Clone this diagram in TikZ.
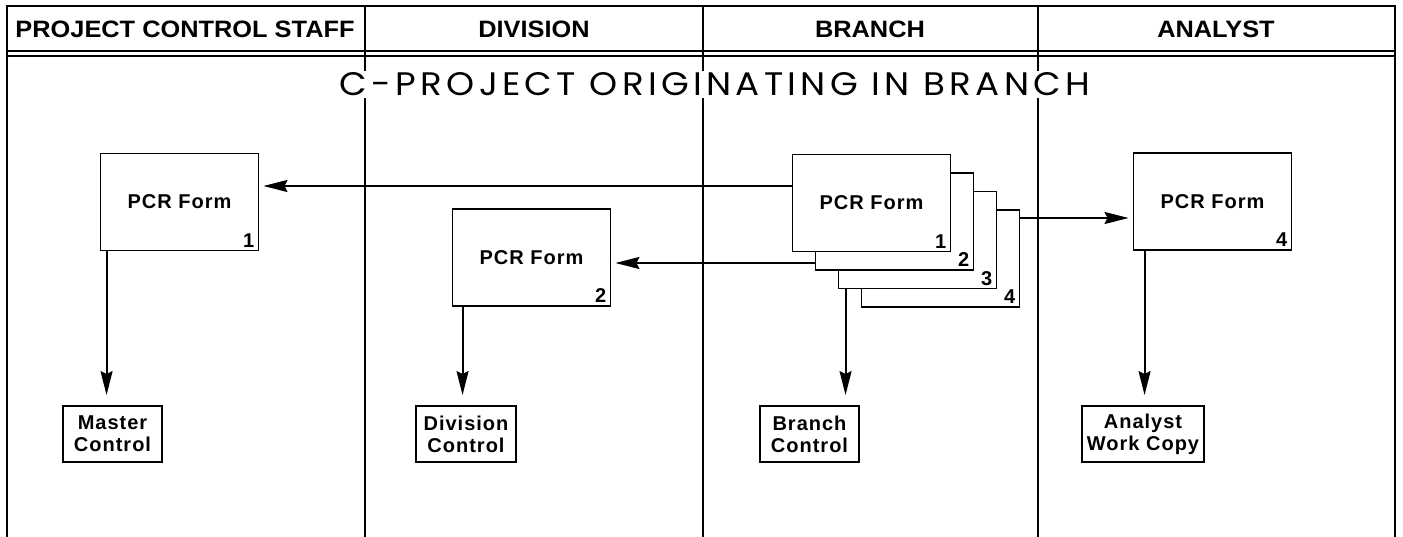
\documentclass[tikz,border=0pt]{standalone}
\usepackage{fontspec}
\setmainfont{Liberation Sans}
\newfontfamily\titlefont[LetterSpace=12]{Poppins}
\newfontfamily\boxfont[LetterSpace=5]{Liberation Sans Bold}
\usetikzlibrary{arrows.meta}
\newcommand\hdtext[1]{\scalebox{1.07}[1]{\bfseries\fontsize{23.7}{24}\selectfont #1}}
\begin{document}
\begin{tikzpicture}[x=1pt,y=-1pt,
  frame/.style={line width=2.4pt},
  rule/.style={line width=1.6pt},
  form/.style={draw, line width=1.9pt, fill=white, minimum width=158pt, minimum height=97pt, inner sep=0pt, font=\boxfont\fontsize{20}{22}\selectfont},
  ctrl/.style={draw, line width=1.9pt, fill=white, minimum height=56pt, inner sep=0pt, align=center, font=\boxfont\fontsize{20}{22}\selectfont},
  num/.style={anchor=south east, inner sep=0pt, xshift=-5pt, yshift=4pt, font=\bfseries\fontsize{20}{20}\selectfont},
  hdr/.style={inner sep=0pt},
  flow/.style={line width=1.9pt, -{Stealth[length=24pt,width=12pt,inset=3pt]}},
]
\useasboundingbox (0,0) rectangle (1403,537);
% frame and swimlanes
\draw[frame] (7,537) -- (7,6) -- (1395,6) -- (1395,537);
\draw[rule] (7,51) -- (1395,51);
\draw[rule] (7,56) -- (1395,56);
\foreach \xx in {365,703,1038} \draw[frame] (\xx,6) -- (\xx,537);
% headers
\node[hdr] (h1) at (185,29) {\hdtext{PROJECT CONTROL STAFF}};
\node[hdr] (h2) at (534,29) {\hdtext{DIVISION}};
\node[hdr] (h3) at (870,29) {\hdtext{BRANCH}};
\node[hdr] (h4) at (1216,29) {\hdtext{ANALYST}};
% title
\node[fill=white, inner xsep=0pt, inner ysep=2pt] (title) at (715,84.5)
  {\resizebox{750pt}{23pt}{\titlefont C-PROJECT ORIGINATING IN BRANCH}};
% forms
\node[form] (f1) at (179.5,202) {PCR Form};
\node[num] (n1) at (f1.south east) {1};
\node[form] (f2) at (531.5,257.5) {PCR Form};
\node[num] (n2) at (f2.south east) {2};
\node[form] (s4) at (940.5,258.5) {};
\node[num] (m4) at (s4.south east) {4};
\node[form] (s3) at (917.5,240) {};
\node[num] (m3) at (s3.south east) {3};
\node[form] (s2) at (894.5,221.5) {};
\node[num] (m2) at (s2.south east) {2};
\node[form] (b1) at (871.5,203) {PCR Form};
\node[num] (m1) at (b1.south east) {1};
\node[form] (fa) at (1212.5,201.5) {PCR Form};
\node[num] (na) at (fa.south east) {4};
% control boxes
\node[ctrl, minimum width=99pt] (mc) at (112.5,434) {Master\\Control};
\node[ctrl, minimum width=100pt] (dc) at (466,434) {Division\\Control};
\node[ctrl, minimum width=99pt] (bc) at (809.5,434) {Branch\\Control};
\node[ctrl, minimum width=122pt] (aw) at (1143,434) {Analyst\\Work Copy};
% connectors
\draw[flow, shorten >=4pt] ([yshift=17pt]b1.west) -- ([yshift=17pt]b1.west -| f1.east);
\draw[flow, shorten >=4pt] ([yshift=-41.5pt]s2.west) -- ([yshift=-41.5pt]s2.west -| f2.east);
\draw[flow, shorten >=4pt] ([yshift=40.5pt]s4.east) -- ([yshift=40.5pt]s4.east -| fa.west);
\draw[flow, shorten >=10pt] ([xshift=7pt]f1.south west) -- ([xshift=7pt]f1.south west |- mc.north);
\draw[flow, shorten >=10pt] ([xshift=11pt]f2.south west) -- ([xshift=11pt]f2.south west |- dc.north);
\draw[flow, shorten >=10pt] ([xshift=8pt]s3.south west) -- ([xshift=8pt]s3.south west |- bc.north);
\draw[flow, shorten >=10pt] ([xshift=12pt]fa.south west) -- ([xshift=12pt]fa.south west |- aw.north);
\end{tikzpicture}
\end{document}
